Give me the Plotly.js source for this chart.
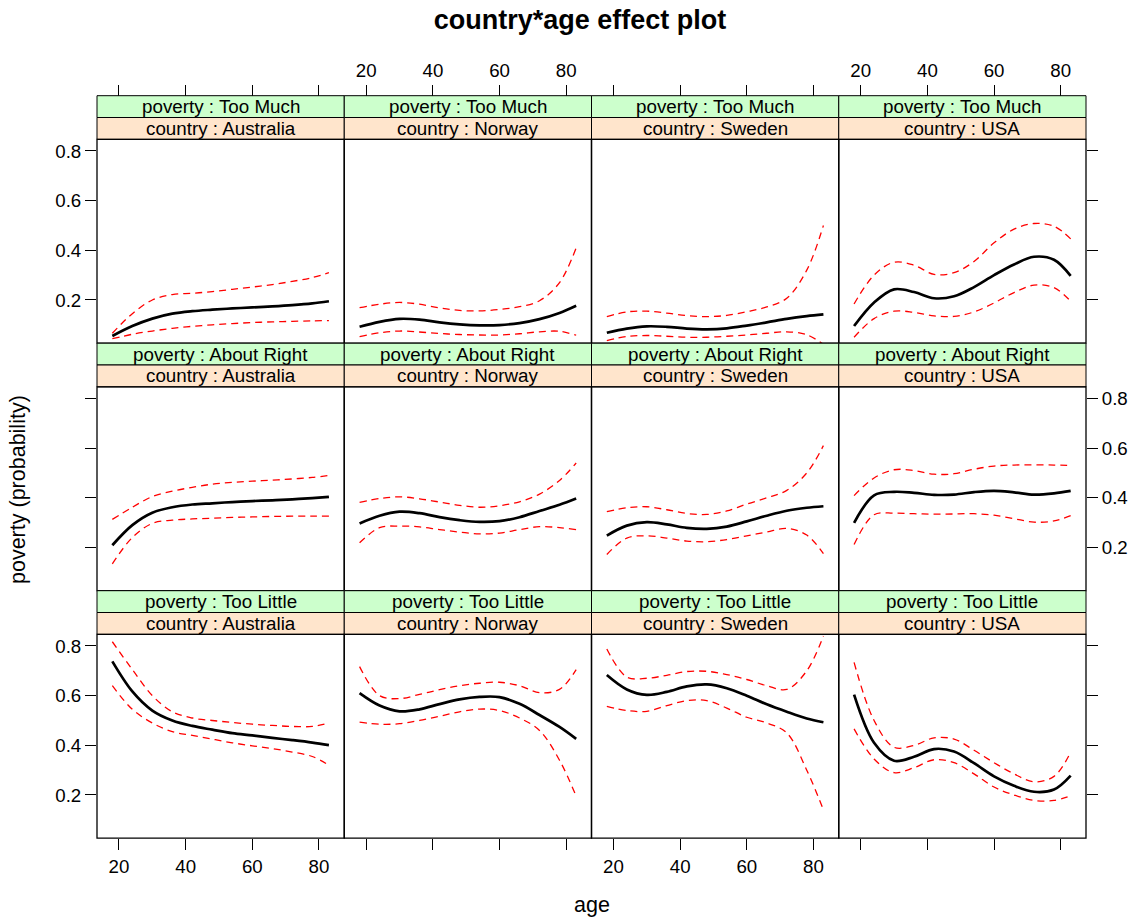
<!DOCTYPE html>
<html>
<head>
<meta charset="utf-8">
<script src="https://cdn.plot.ly/plotly-3.0.1.min.js"></script>
<style>html,body{margin:0;padding:0;background:#fff;}#chart{width:1137px;height:918px;}</style>
</head>
<body>
<div id="chart"></div>
<script>
// ---------------- data ----------------
const ages = [18, 24, 30, 36, 42, 48, 54, 60, 66, 72, 78, 83];
const countries = ['Australia', 'Norway', 'Sweden', 'USA'];
const povertyLevels = ['Too Much', 'About Right', 'Too Little'];   // panel rows, top to bottom
const xTicks = [20, 40, 60, 80];
const yTicks = [0.2, 0.4, 0.6, 0.8];

// fitted probability, rows = countries (Australia, Norway, Sweden, USA)
const tooMuchFit = [
  [0.055, 0.095, 0.125, 0.145, 0.155, 0.161, 0.166, 0.170, 0.174, 0.179, 0.186, 0.195],
  [0.092, 0.112, 0.124, 0.121, 0.110, 0.102, 0.098, 0.099, 0.107, 0.123, 0.148, 0.177],
  [0.068, 0.085, 0.094, 0.092, 0.085, 0.082, 0.086, 0.097, 0.110, 0.124, 0.135, 0.142],
  [0.095, 0.190, 0.243, 0.232, 0.207, 0.215, 0.252, 0.300, 0.343, 0.374, 0.362, 0.297]
];
const tooMuchLower = [
  [0.044, 0.062, 0.075, 0.086, 0.094, 0.100, 0.105, 0.109, 0.112, 0.114, 0.116, 0.117],
  [0.052, 0.068, 0.075, 0.071, 0.065, 0.061, 0.059, 0.059, 0.064, 0.072, 0.074, 0.058],
  [0.036, 0.053, 0.057, 0.054, 0.050, 0.050, 0.054, 0.059, 0.066, 0.072, 0.060, 0.022],
  [0.050, 0.125, 0.155, 0.150, 0.136, 0.134, 0.152, 0.188, 0.230, 0.260, 0.250, 0.195]
];
const tooMuchUpper = [
  [0.066, 0.145, 0.200, 0.222, 0.227, 0.234, 0.243, 0.252, 0.262, 0.275, 0.290, 0.310],
  [0.169, 0.183, 0.190, 0.183, 0.168, 0.158, 0.156, 0.162, 0.173, 0.197, 0.270, 0.410],
  [0.133, 0.152, 0.155, 0.147, 0.137, 0.133, 0.138, 0.153, 0.172, 0.207, 0.320, 0.500],
  [0.184, 0.300, 0.352, 0.340, 0.303, 0.310, 0.355, 0.430, 0.485, 0.508, 0.497, 0.446]
];
const aboutRightFit = [
  [0.209, 0.290, 0.340, 0.362, 0.373, 0.378, 0.383, 0.387, 0.390, 0.394, 0.399, 0.404],
  [0.297, 0.328, 0.344, 0.338, 0.322, 0.310, 0.303, 0.306, 0.322, 0.347, 0.372, 0.397],
  [0.248, 0.288, 0.302, 0.293, 0.279, 0.275, 0.284, 0.305, 0.328, 0.348, 0.360, 0.366],
  [0.299, 0.410, 0.424, 0.420, 0.412, 0.413, 0.423, 0.428, 0.422, 0.413, 0.418, 0.428]
];
const aboutRightLower = [
  [0.134, 0.240, 0.297, 0.310, 0.315, 0.318, 0.321, 0.323, 0.325, 0.326, 0.326, 0.326],
  [0.219, 0.280, 0.286, 0.283, 0.272, 0.262, 0.255, 0.258, 0.272, 0.284, 0.280, 0.272],
  [0.172, 0.238, 0.247, 0.238, 0.226, 0.223, 0.232, 0.247, 0.262, 0.277, 0.250, 0.175],
  [0.212, 0.332, 0.338, 0.336, 0.334, 0.335, 0.336, 0.330, 0.316, 0.302, 0.307, 0.328]
];
const aboutRightUpper = [
  [0.313, 0.362, 0.405, 0.427, 0.442, 0.455, 0.462, 0.467, 0.471, 0.476, 0.482, 0.490],
  [0.382, 0.397, 0.404, 0.396, 0.383, 0.370, 0.362, 0.368, 0.384, 0.415, 0.470, 0.540],
  [0.344, 0.360, 0.364, 0.352, 0.337, 0.333, 0.347, 0.375, 0.400, 0.430, 0.500, 0.610],
  [0.409, 0.480, 0.513, 0.510, 0.495, 0.497, 0.515, 0.528, 0.532, 0.533, 0.532, 0.530]
];
const tooLittleFit = [
  [0.738, 0.617, 0.540, 0.500, 0.478, 0.463, 0.449, 0.440, 0.430, 0.421, 0.411, 0.401],
  [0.610, 0.560, 0.537, 0.545, 0.566, 0.585, 0.595, 0.594, 0.567, 0.522, 0.474, 0.426],
  [0.683, 0.625, 0.603, 0.615, 0.637, 0.645, 0.630, 0.600, 0.565, 0.535, 0.508, 0.493],
  [0.604, 0.410, 0.338, 0.354, 0.385, 0.375, 0.328, 0.275, 0.237, 0.213, 0.222, 0.278]
];
const tooLittleLower = [
  [0.640, 0.545, 0.490, 0.455, 0.440, 0.425, 0.410, 0.398, 0.387, 0.373, 0.355, 0.320],
  [0.493, 0.485, 0.487, 0.500, 0.517, 0.535, 0.546, 0.540, 0.510, 0.460, 0.340, 0.195],
  [0.557, 0.540, 0.537, 0.560, 0.580, 0.580, 0.550, 0.513, 0.490, 0.450, 0.300, 0.140],
  [0.466, 0.345, 0.290, 0.310, 0.342, 0.330, 0.285, 0.232, 0.200, 0.178, 0.178, 0.197]
];
const tooLittleUpper = [
  [0.817, 0.705, 0.600, 0.535, 0.510, 0.500, 0.492, 0.485, 0.480, 0.476, 0.476, 0.490],
  [0.717, 0.600, 0.588, 0.605, 0.624, 0.640, 0.650, 0.654, 0.640, 0.612, 0.625, 0.705],
  [0.788, 0.675, 0.670, 0.682, 0.697, 0.698, 0.685, 0.665, 0.640, 0.625, 0.700, 0.840],
  [0.734, 0.500, 0.392, 0.400, 0.430, 0.425, 0.380, 0.330, 0.285, 0.253, 0.275, 0.372]
];

const fitByRow = [tooMuchFit, aboutRightFit, tooLittleFit];
const lowerByRow = [tooMuchLower, aboutRightLower, tooLittleLower];
const upperByRow = [tooMuchUpper, aboutRightUpper, tooLittleUpper];

// ---------------- layout geometry (pixels) ----------------
const W = 1137, H = 918;
const colEdges = [97, 344.25, 591.5, 838.75, 1086];
const top0 = 95.7, stripH = 21.8, plotH = 203.9, rowStep = 247.5;
const xRange = [13.4, 87.6];
const yRange = [0.026, 0.847];
const FONT = 'Liberation Sans, Arial, Helvetica, sans-serif';
const px = v => v / W;
const py = v => 1 - v / H;

const traces = [];
const shapes = [];
const annotations = [];
const layout = {
  width: W, height: H,
  margin: {l: 0, r: 0, t: 0, b: 0},
  paper_bgcolor: '#ffffff', plot_bgcolor: '#ffffff',
  showlegend: false,
  font: {family: FONT, color: '#000000', size: 18.7},
  title: {
    text: 'country*age effect plot',
    font: {family: FONT, size: 27, weight: 'bold', color: '#000000'},
    xref: 'paper', x: px(580), xanchor: 'center',
    yref: 'container', y: py(20), yanchor: 'middle'
  }
};

for (let r = 0; r < 3; r++) {
  const stripTop = top0 + r * rowStep;
  const plotTop = stripTop + 2 * stripH;
  const plotBottom = plotTop + plotH;
  for (let c = 0; c < 4; c++) {
    const k = r * 4 + c + 1;
    const xa = 'xaxis' + k, ya = 'yaxis' + k;
    const xr = 'x' + k, yr = 'y' + k;

    // x axis
    const xAxis = {
      domain: [px(colEdges[c]), px(colEdges[c + 1])],
      range: xRange, showgrid: false, zeroline: false, showline: false,
      tickvals: xTicks, ticktext: xTicks.map(String),
      ticks: 'outside', ticklen: 11, tickwidth: 1, tickcolor: '#000000',
      tickfont: {family: FONT, size: 18.7, color: '#000000'},
      fixedrange: true
    };
    if (r === 2) {
      xAxis.anchor = yr; xAxis.side = 'bottom';
      xAxis.showticklabels = (c === 0 || c === 2);
    } else if (r === 0) {
      xAxis.anchor = 'free'; xAxis.position = py(top0); xAxis.side = 'top';
      xAxis.showticklabels = (c === 1 || c === 3);
    } else {
      xAxis.anchor = yr; xAxis.ticks = ''; xAxis.showticklabels = false;
    }
    layout[xa] = xAxis;

    // y axis
    const yAxis = {
      domain: [py(plotBottom), py(plotTop)],
      range: yRange, anchor: xr, showgrid: false, zeroline: false, showline: false,
      tickvals: yTicks, ticktext: yTicks.map(v => v.toFixed(1)),
      ticks: 'outside', ticklen: 11, tickwidth: 1, tickcolor: '#000000',
      tickfont: {family: FONT, size: 18.7, color: '#000000'},
      fixedrange: true
    };
    if (c === 0) {
      yAxis.side = 'left';
      yAxis.showticklabels = (r === 0 || r === 2);
    } else if (c === 3) {
      yAxis.side = 'right';
      yAxis.showticklabels = (r === 1);
    } else {
      yAxis.ticks = ''; yAxis.showticklabels = false;
    }
    layout[ya] = yAxis;

    // curves
    const common = {x: ages, xaxis: xr, yaxis: yr, type: 'scatter', mode: 'lines', hoverinfo: 'skip'};
    traces.push(Object.assign({}, common, {
      y: upperByRow[r][c], line: {color: '#ff0000', width: 1.3, dash: '7px,5px', shape: 'spline', smoothing: 1}
    }));
    traces.push(Object.assign({}, common, {
      y: lowerByRow[r][c], line: {color: '#ff0000', width: 1.3, dash: '7px,5px', shape: 'spline', smoothing: 1}
    }));
    traces.push(Object.assign({}, common, {
      y: fitByRow[r][c], line: {color: '#000000', width: 2.7, shape: 'spline', smoothing: 1}
    }));

    // strips and borders
    const x0 = px(colEdges[c]), x1 = px(colEdges[c + 1]);
    shapes.push({type: 'rect', xref: 'paper', yref: 'paper', x0: x0, x1: x1,
      y0: py(stripTop + stripH), y1: py(stripTop), fillcolor: '#CCFFCC',
      line: {color: '#000000', width: 1}, layer: 'above'});
    shapes.push({type: 'rect', xref: 'paper', yref: 'paper', x0: x0, x1: x1,
      y0: py(plotTop), y1: py(stripTop + stripH), fillcolor: '#FFE5CC',
      line: {color: '#000000', width: 1}, layer: 'above'});
    shapes.push({type: 'rect', xref: 'paper', yref: 'paper', x0: x0, x1: x1,
      y0: py(plotBottom), y1: py(plotTop), fillcolor: 'rgba(0,0,0,0)',
      line: {color: '#000000', width: 1.3}, layer: 'above'});

    annotations.push({xref: 'paper', yref: 'paper', x: (x0 + x1) / 2, y: py(stripTop + stripH / 2),
      text: 'poverty : ' + povertyLevels[r], showarrow: false, xanchor: 'center', yanchor: 'middle',
      font: {family: FONT, size: 18.8, color: '#000000'}});
    annotations.push({xref: 'paper', yref: 'paper', x: (x0 + x1) / 2, y: py(stripTop + 1.5 * stripH),
      text: 'country : ' + countries[c], showarrow: false, xanchor: 'center', yanchor: 'middle',
      font: {family: FONT, size: 18.8, color: '#000000'}});
  }
}

// axis titles
annotations.push({xref: 'paper', yref: 'paper', x: px(591.5), y: py(905), text: 'age',
  showarrow: false, xanchor: 'center', yanchor: 'middle', font: {family: FONT, size: 21.5, color: '#000000'}});
annotations.push({xref: 'paper', yref: 'paper', x: px(18), y: py(490), text: 'poverty (probability)',
  textangle: -90, showarrow: false, xanchor: 'center', yanchor: 'middle', font: {family: FONT, size: 21.5, color: '#000000'}});

layout.shapes = shapes;
layout.annotations = annotations;

Plotly.newPlot('chart', traces, layout, {displayModeBar: false, staticPlot: true});
</script>
</body>
</html>
